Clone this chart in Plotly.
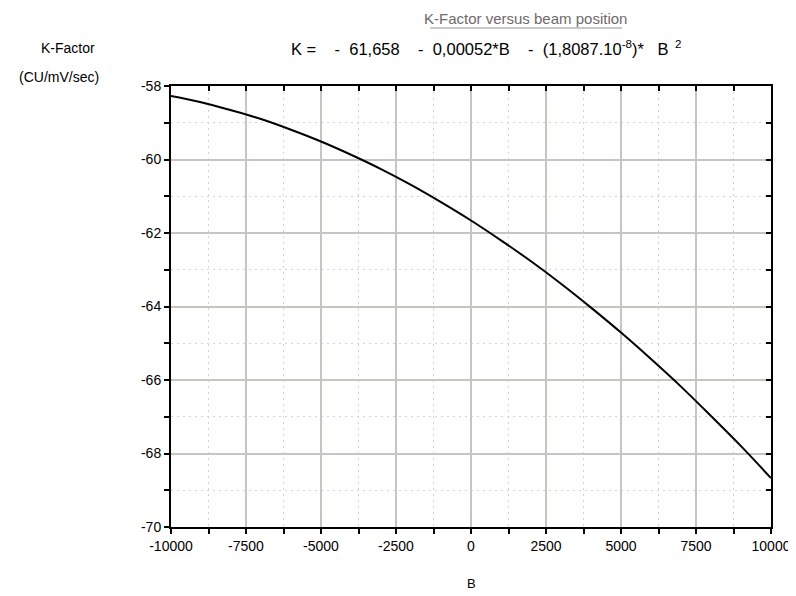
import plotly.graph_objects as go

# Beam position B and K-Factor values
B = [-10000, -9000, -8000, -7000, -6000, -5000, -4000, -3000, -2000, -1000, 0,
     1000, 2000, 3000, 4000, 5000, 6000, 7000, 8000, 9000, 10000]
K = [-58.27, -58.44, -58.66, -58.90, -59.19, -59.51, -59.87, -60.26, -60.69, -61.16, -61.66,
     -62.20, -62.77, -63.38, -64.03, -64.71, -65.43, -66.18, -66.98, -67.80, -68.67]

x_ticks = [-10000, -7500, -5000, -2500, 0, 2500, 5000, 7500, 10000]
y_ticks = [-70, -68, -66, -64, -62, -60, -58]

FONT = "Liberation Sans, Arial, sans-serif"
NB = "\u00a0"

fig = go.Figure()
fig.add_trace(go.Scatter(x=B, y=K, mode="lines", line=dict(color="black", width=2),
                         line_shape="spline", showlegend=False, hoverinfo="skip"))
# invisible trace for mirrored inside ticks
fig.add_trace(go.Scatter(x=B, y=K, xaxis="x2", yaxis="y2", mode="lines",
                         line=dict(color="rgba(0,0,0,0)"), showlegend=False, hoverinfo="skip"))

axis_common = dict(showline=True, linecolor="black", linewidth=2, zeroline=False,
                   ticks="outside", ticklen=5, tickwidth=2, tickcolor="black",
                   gridcolor="#c8c4c0", gridwidth=2,
                   tickfont=dict(family=FONT, size=14, color="black"))

formula = ("K" + NB + "=" + NB * 4 + "-" + NB * 2 + "61,658" + NB * 4 + "-" + NB * 2 +
           "0,00052*B" + NB * 4 + "-" + NB * 2 + "(1,8087.10<sup>-8</sup>)*" + NB * 3 +
           "B<sup>" + NB * 2 + "2</sup>")

fig.update_layout(
    width=796, height=596,
    margin=dict(l=163, r=33, t=78, b=77),
    paper_bgcolor="white", plot_bgcolor="white",
    font=dict(family=FONT, color="black"),
    xaxis=dict(range=[-10000, 10000], tickvals=x_ticks, ticktext=[str(v) for v in x_ticks],
               minor=dict(dtick=1250, tick0=0, ticks="outside", ticklen=5, tickcolor="black",
                          showgrid=True, gridcolor="#d8d0d0", griddash="2px,4px", gridwidth=1),
               **axis_common),
    yaxis=dict(range=[-70, -58], tickvals=y_ticks, ticktext=[str(v) for v in y_ticks],
               minor=dict(dtick=1, tick0=0, ticks="outside", ticklen=5, tickcolor="black",
                          showgrid=True, gridcolor="#d8d0d0", griddash="2px,4px", gridwidth=1),
               **axis_common),
    xaxis2=dict(overlaying="x", side="top", range=[-10000, 10000], tickvals=x_ticks,
                showticklabels=False, showgrid=False, zeroline=False, showline=True,
                linecolor="black", linewidth=2, ticks="inside", ticklen=5, tickwidth=2,
                tickcolor="black",
                minor=dict(dtick=1250, tick0=0, ticks="inside", ticklen=5, tickcolor="black")),
    yaxis2=dict(overlaying="y", side="right", range=[-70, -58], tickvals=y_ticks,
                showticklabels=False, showgrid=False, zeroline=False, showline=True,
                linecolor="black", linewidth=2, ticks="inside", ticklen=5, tickwidth=2,
                tickcolor="black",
                minor=dict(dtick=1, tick0=0, ticks="inside", ticklen=5, tickcolor="black")),
    annotations=[
        dict(text="K-Factor versus beam position", xref="paper", yref="paper",
             x=0.59, y=1.0, yshift=68, xanchor="center", yanchor="middle", showarrow=False,
             font=dict(family=FONT, size=15, color="#6e6a6a")),
        dict(text=formula,
             xref="paper", yref="paper", x=0.525, y=1.0, yshift=38,
             xanchor="center", yanchor="middle", showarrow=False,
             font=dict(family=FONT, size=16.5, color="black")),
        dict(text="K-Factor", xref="paper", yref="paper", x=-0.172, y=1.0, yshift=38,
             xanchor="center", yanchor="middle", showarrow=False,
             font=dict(family=FONT, size=14, color="black")),
        dict(text="(CU/mV/sec)", xref="paper", yref="paper", x=-0.187, y=1.0, yshift=9,
             xanchor="center", yanchor="middle", showarrow=False,
             font=dict(family=FONT, size=14, color="black")),
        dict(text="B", xref="paper", yref="paper", x=0.5, y=0.0, yshift=-56,
             xanchor="center", yanchor="middle", showarrow=False,
             font=dict(family=FONT, size=13, color="black")),
    ],
    shapes=[dict(type="line", xref="paper", yref="paper", x0=0.432, x1=0.752,
                 y0=1.0 + 58/441, y1=1.0 + 58/441, line=dict(color="#b8b4b4", width=1.5))],
)

fig.write_html("out.html")
